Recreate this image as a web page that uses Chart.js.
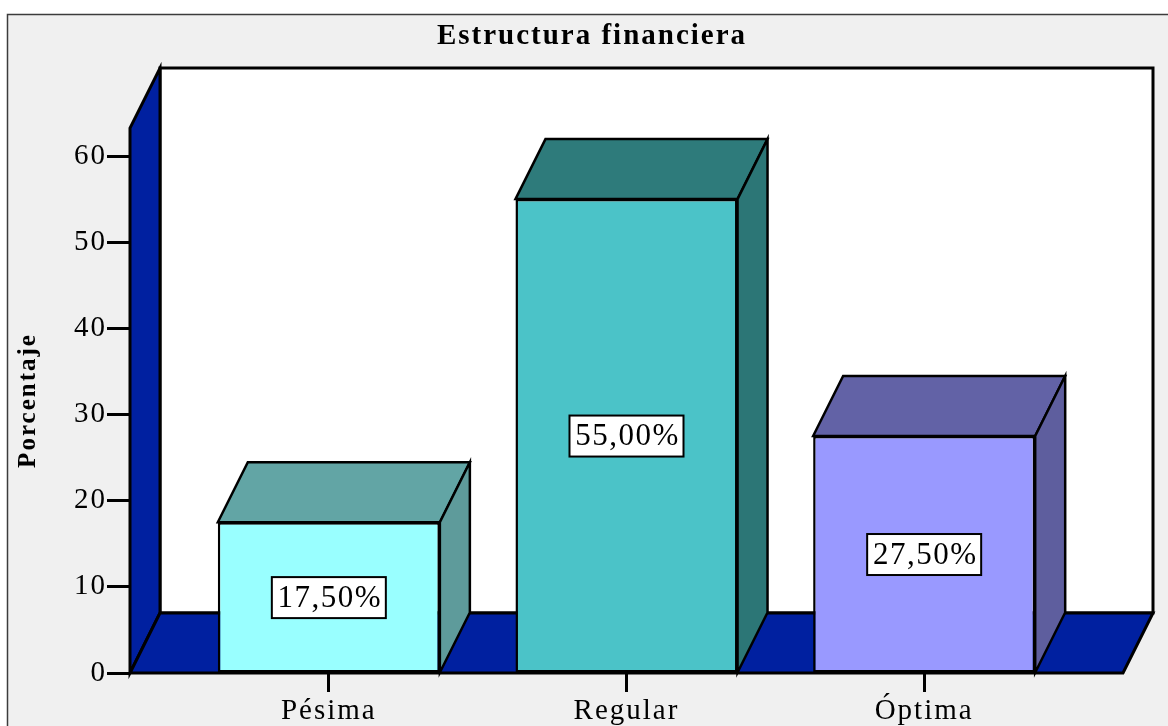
<!DOCTYPE html>
<html>
<head>
<meta charset="utf-8">
<script src="https://cdn.jsdelivr.net/npm/chart.js@4.4.0/dist/chart.umd.min.js"></script>
<style>
  html, body { margin: 0; padding: 0; background: #ffffff; }
  canvas { display: block; }
</style>
</head>
<body>
<canvas id="chart" width="1168" height="726"></canvas>
<script>
// Chart content
const chartTitle = 'Estructura financiera';
const axisTitle = 'Porcentaje';
const categories = ['Pésima', 'Regular', 'Óptima'];
const percentages = [17.5, 55.0, 27.5];
const yTickStep = 10;
const yAxisMax = 63.25;

// Styling of the 3D boxes and the room around them
const frontColors = ['#99ffff', '#4bc3c8', '#9999ff'];
const topColors = ['#62a5a5', '#2e7b7b', '#6262a6'];
const sideColors = ['#5e9b9b', '#2c7676', '#5e5e9e'];
const wallColor = '#0020a0';
const DX = 30, DY = -60;             // depth offset of the 3D projection
const X_MIN = -0.668, X_MAX = 2.668; // category index range incl. floor margin
const SERIF = '"Liberation Serif", "Times New Roman", serif';

function poly(ctx, pts, fill, lw) {
  ctx.beginPath();
  ctx.moveTo(pts[0][0], pts[0][1]);
  for (let i = 1; i < pts.length; i++) ctx.lineTo(pts[i][0], pts[i][1]);
  ctx.closePath();
  ctx.fillStyle = fill;
  ctx.fill();
  ctx.lineJoin = 'miter';
  ctx.strokeStyle = '#000';
  ctx.lineWidth = lw;
  ctx.stroke();
}

const box3d = {
  id: 'box3d',
  beforeDraw(chart) {
    const { ctx, chartArea: a, scales: { y } } = chart;
    ctx.save();
    ctx.letterSpacing = '0px';
    ctx.fillStyle = '#ffffff';
    ctx.fillRect(0, 0, chart.width, chart.height);
    ctx.fillStyle = '#f0f0f0';
    ctx.fillRect(7, 14, chart.width, chart.height);
    ctx.strokeStyle = '#3c3c3c';
    ctx.lineWidth = 1.5;
    ctx.strokeRect(7.5, 14.5, chart.width + 20, chart.height + 20);

    const L = a.left, R = a.right;
    const T = y.getPixelForValue(y.max), B = y.getPixelForValue(0);
    // back wall
    poly(ctx, [[L + DX, T + DY], [R + DX, T + DY], [R + DX, B + DY], [L + DX, B + DY]], '#ffffff', 3);
    // left wall
    poly(ctx, [[L, B], [L, T], [L + DX, T + DY], [L + DX, B + DY]], wallColor, 3);
    // floor
    poly(ctx, [[L, B], [L + DX, B + DY], [R + DX, B + DY], [R, B]], wallColor, 3);
    ctx.restore();
    // axis texts are drawn slightly spaced out
    ctx.letterSpacing = '2px';
  },
  beforeDatasetsDraw(chart) {
    const ctx = chart.ctx;
    const meta = chart.getDatasetMeta(0);
    ctx.save();
    meta.data.forEach((bar, i) => {
      const l = bar.x - bar.width / 2, r = bar.x + bar.width / 2;
      const t = bar.y, b = bar.base;
      poly(ctx, [[l, t], [l + DX, t + DY], [r + DX, t + DY], [r, t]], topColors[i], 2.5);
      poly(ctx, [[r, t], [r + DX, t + DY], [r + DX, b + DY], [r, b]], sideColors[i], 2.5);
    });
    ctx.restore();
  },
  afterDatasetsDraw(chart) {
    const { ctx, scales: { y } } = chart;
    const meta = chart.getDatasetMeta(0);
    ctx.save();
    ctx.letterSpacing = '1.5px';
    ctx.font = '31px ' + SERIF;
    ctx.textAlign = 'center';
    ctx.textBaseline = 'middle';
    meta.data.forEach((bar, i) => {
      const v = percentages[i];
      const cy = y.getPixelForValue(v / 2);
      const w = 114, h = 41;
      ctx.fillStyle = '#ffffff';
      ctx.fillRect(bar.x - w / 2, cy - h / 2, w, h);
      ctx.strokeStyle = '#000';
      ctx.lineWidth = 2;
      ctx.strokeRect(bar.x - w / 2, cy - h / 2, w, h);
      ctx.fillStyle = '#000';
      ctx.fillText(v.toFixed(2).replace('.', ',') + '%', bar.x + 1, cy + 1);
    });
    // chart heading
    ctx.letterSpacing = '2px';
    ctx.font = 'bold 29px ' + SERIF;
    ctx.textBaseline = 'alphabetic';
    ctx.fillText(chartTitle, 592, 44);
    ctx.restore();
  }
};

new Chart(document.getElementById('chart'), {
  type: 'bar',
  data: {
    datasets: [{
      data: percentages.map((v, i) => ({ x: i, y: v })),
      backgroundColor: frontColors,
      borderColor: '#000000',
      borderWidth: 2.5,
      borderSkipped: false,
      categoryPercentage: 1,
      barPercentage: 0.746,
      clip: false
    }]
  },
  options: {
    responsive: false,
    animation: false,
    devicePixelRatio: 1,
    layout: { padding: { top: 128, left: 0, right: 45, bottom: 0 } },
    plugins: {
      legend: { display: false },
      title: { display: false },
      tooltip: { enabled: false }
    },
    scales: {
      x: {
        type: 'linear',
        min: X_MIN,
        max: X_MAX,
        offset: false,
        afterFit(s) { s.height = 53; },
        border: { display: false },
        grid: { offset: false, drawOnChartArea: false, drawTicks: true, tickLength: 19, tickWidth: 3, tickColor: '#000' },
        ticks: {
          stepSize: 1,
          includeBounds: false,
          autoSkip: false,
          maxRotation: 0,
          padding: 2,
          color: '#000',
          font: { family: SERIF, size: 29 },
          callback: (v) => categories[v] ?? ''
        }
      },
      y: {
        min: 0,
        max: yAxisMax,
        afterFit(s) { s.width = 130; },
        border: { display: false },
        grid: { drawOnChartArea: false, drawTicks: true, tickLength: 23, tickWidth: 3, tickColor: '#000' },
        ticks: {
          stepSize: yTickStep,
          includeBounds: false,
          padding: 0,
          color: '#000',
          font: { family: SERIF, size: 29 }
        },
        title: {
          display: true,
          text: axisTitle,
          color: '#000',
          padding: { top: 14, bottom: 0 },
          font: { family: SERIF, size: 25, weight: 'bold', lineHeight: 1.2 }
        }
      }
    }
  },
  plugins: [box3d]
});
</script>
</body>
</html>
